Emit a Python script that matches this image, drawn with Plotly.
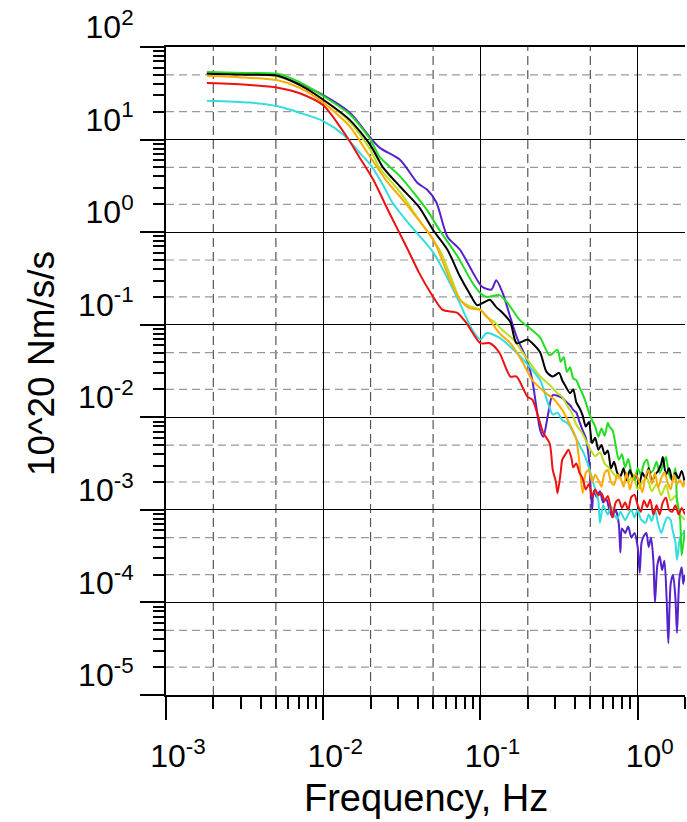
import plotly.graph_objects as go

# ---- data (log10 of frequency in Hz, log10 of spectral level) ----
purple_logf = [-2.74, -2.5, -2.29, -2.15, -2.0, -1.83, -1.70, -1.64, -1.51, -1.40, -1.34, -1.28, -1.21, -1.13,
               -1.05, -0.99, -0.93, -0.90, -0.86, -0.81, -0.77, -0.70, -0.67, -0.62, -0.60, -0.57, -0.54,
               -0.48, -0.45, -0.43, -0.41, -0.39, -0.37, -0.35, -0.33, -0.31, -0.29, -0.28, -0.26, -0.24,
               -0.22, -0.20, -0.18, -0.16, -0.14, -0.12, -0.11, -0.10, -0.08, -0.06, -0.04, -0.02, 0.0,
               0.013, 0.025, 0.04, 0.055, 0.07, 0.085, 0.10, 0.11, 0.125, 0.14, 0.155, 0.17, 0.185, 0.195,
               0.21, 0.225, 0.24, 0.25, 0.265, 0.28, 0.29, 0.30]
purple_logp = [1.72, 1.71, 1.69, 1.60, 1.48, 1.29, 1.02, 0.91, 0.78, 0.53, 0.46, 0.32, -0.05, -0.19,
               -0.43, -0.59, -0.62, -0.52, -0.65, -0.92, -1.13, -1.40, -1.60, -2.14, -2.21, -1.97, -1.76,
               -1.79, -1.84, -1.87, -1.92, -1.95, -2.05, -2.14, -2.22, -2.45, -3.0, -2.80, -2.86, -2.80,
               -2.92, -2.88, -3.0, -3.08, -3.0, -3.15, -3.46, -3.20, -3.25, -3.18, -3.30, -3.25, -3.40,
               -3.68, -3.35, -3.28, -3.25, -3.40, -3.30, -3.55, -4.0, -3.60, -3.50, -3.65, -3.55, -4.0, -4.44,
               -3.80, -3.70, -3.95, -4.33, -3.75, -3.62, -3.80, -3.70]

black_logf = [-2.74, -2.5, -2.29, -2.15, -2.0, -1.83, -1.70, -1.62, -1.51, -1.39, -1.30, -1.21, -1.13, -1.07,
              -1.02, -0.98, -0.94, -0.90, -0.86, -0.81, -0.77, -0.70, -0.67, -0.62, -0.58, -0.54, -0.50,
              -0.48, -0.46, -0.43, -0.41, -0.39, -0.37, -0.35, -0.33, -0.31, -0.29, -0.27, -0.25, -0.23,
              -0.21, -0.19, -0.17, -0.15, -0.13, -0.11, -0.09, -0.07, -0.05, -0.03, -0.01, 0.01, 0.03,
              0.05, 0.07, 0.09, 0.11, 0.13, 0.15, 0.16, 0.18, 0.20, 0.22, 0.24, 0.26, 0.28, 0.30]
black_logp = [1.71, 1.70, 1.69, 1.59, 1.43, 1.21, 0.94, 0.70, 0.49, 0.27, 0.02, -0.19, -0.48, -0.66,
              -0.79, -0.76, -0.73, -0.81, -0.87, -0.97, -1.20, -1.16, -1.20, -1.30, -1.51, -1.56, -1.52,
              -1.60, -1.66, -1.74, -1.70, -1.84, -1.90, -1.98, -2.10, -2.05, -2.28, -2.22, -2.35, -2.30,
              -2.40, -2.36, -2.55, -2.48, -2.60, -2.64, -2.55, -2.68, -2.57, -2.65, -2.62, -2.72, -2.60,
              -2.66, -2.55, -2.70, -2.62, -2.58, -2.50, -2.43, -2.62, -2.55, -2.68, -2.60, -2.66, -2.58, -2.71]

green_logf = [-2.74, -2.5, -2.29, -2.15, -2.0, -1.83, -1.70, -1.64, -1.51, -1.34, -1.26, -1.15, -1.05, -1.0,
              -0.96, -0.88, -0.83, -0.75, -0.70, -0.62, -0.56, -0.51, -0.49, -0.47, -0.45, -0.43, -0.41,
              -0.39, -0.37, -0.35, -0.33, -0.31, -0.29, -0.27, -0.25, -0.23, -0.21, -0.19, -0.18, -0.16,
              -0.14, -0.12, -0.10, -0.08, -0.06, -0.04, -0.02, 0.0, 0.02, 0.04, 0.06, 0.08, 0.10, 0.12,
              0.14, 0.16, 0.18, 0.20, 0.22, 0.24, 0.25, 0.27, 0.28, 0.30]
green_logp = [1.73, 1.72, 1.71, 1.62, 1.47, 1.27, 1.0, 0.81, 0.60, 0.24, 0.02, -0.25, -0.55, -0.66,
              -0.70, -0.68, -0.76, -0.95, -1.02, -1.14, -1.33, -1.27, -1.40, -1.35, -1.51, -1.46, -1.58,
              -1.60, -1.68, -1.75, -1.84, -1.95, -2.03, -2.10, -2.21, -2.12, -2.20, -2.06, -2.10, -2.14,
              -2.30, -2.46, -2.40, -2.54, -2.45, -2.60, -2.68, -2.55, -2.62, -2.50, -2.46, -2.60, -2.57,
              -2.48, -2.60, -2.52, -2.43, -2.62, -2.68, -2.55, -2.89, -3.10, -3.49, -3.22]

lime_logf = [-2.74, -2.5, -2.29, -2.15, -2.0, -1.83, -1.70, -1.64, -1.51, -1.39, -1.26, -1.18, -1.13, -1.07,
             -1.0, -0.96, -0.91, -0.86, -0.79, -0.70, -0.62, -0.56, -0.51, -0.48, -0.45, -0.42, -0.39,
             -0.36, -0.33, -0.30, -0.27, -0.24, -0.21, -0.18, -0.15, -0.12, -0.09, -0.06, -0.03, 0.0,
             0.03, 0.06, 0.09, 0.12, 0.15, 0.18, 0.21, 0.24, 0.27, 0.30]
lime_logp = [1.72, 1.71, 1.68, 1.59, 1.43, 1.19, 0.89, 0.69, 0.43, 0.13, -0.19, -0.52, -0.73, -0.80,
             -0.84, -0.92, -0.97, -1.06, -1.16, -1.38, -1.56, -1.65, -1.74, -1.78, -1.87, -1.95, -2.08,
             -2.15, -2.25, -2.35, -2.42, -2.38, -2.50, -2.55, -2.62, -2.66, -2.58, -2.70, -2.62, -2.78,
             -2.70, -2.66, -2.80, -2.72, -2.84, -2.73, -2.90, -2.85, -3.05, -3.11]

orange_logf = [-2.74, -2.5, -2.29, -2.15, -2.0, -1.83, -1.72, -1.60, -1.51, -1.42, -1.30, -1.19, -1.13, -1.07,
               -1.0, -0.94, -0.88, -0.81, -0.73, -0.67, -0.59, -0.53, -0.48, -0.46, -0.43, -0.41, -0.39,
               -0.37, -0.35, -0.33, -0.31, -0.29, -0.27, -0.25, -0.23, -0.21, -0.19, -0.17, -0.15, -0.13,
               -0.11, -0.09, -0.07, -0.05, -0.03, -0.01, 0.01, 0.03, 0.05, 0.07, 0.09, 0.11, 0.13, 0.15,
               0.17, 0.19, 0.21, 0.23, 0.25, 0.27, 0.29, 0.30]
orange_logp = [1.69, 1.67, 1.64, 1.56, 1.40, 1.14, 0.86, 0.56, 0.38, 0.19, -0.08, -0.53, -0.73, -0.82,
               -0.84, -0.95, -1.09, -1.20, -1.41, -1.60, -1.73, -1.81, -1.92, -1.98, -2.08, -2.15, -2.24,
               -2.50, -2.82, -2.60, -2.57, -2.70, -2.62, -2.68, -2.75, -2.60, -2.57, -2.70, -2.73, -2.62,
               -2.65, -2.75, -2.60, -2.78, -2.66, -2.62, -2.70, -2.81, -2.64, -2.57, -2.72, -2.60, -2.76,
               -2.66, -2.59, -2.70, -2.78, -2.62, -2.72, -2.68, -2.75, -2.68]

cyan_logf = [-2.74, -2.47, -2.29, -2.15, -2.0, -1.87, -1.77, -1.70, -1.62, -1.56, -1.45, -1.30, -1.15, -1.05,
             -1.0, -0.96, -0.88, -0.79, -0.70, -0.62, -0.54, -0.51, -0.48, -0.45, -0.43, -0.40, -0.37,
             -0.34, -0.32, -0.30, -0.27, -0.25, -0.24, -0.22, -0.21, -0.19, -0.17, -0.15, -0.13, -0.11,
             -0.08, -0.06, -0.04, -0.02, 0.0, 0.02, 0.05, 0.07, 0.09, 0.11, 0.13, 0.15, 0.17, 0.19, 0.21,
             0.22, 0.24, 0.25, 0.27, 0.29, 0.30]
cyan_logp = [1.42, 1.40, 1.36, 1.29, 1.20, 1.05, 0.86, 0.73, 0.51, 0.32, 0.08, -0.22, -0.70, -1.06,
             -1.16, -1.09, -1.14, -1.27, -1.43, -1.60, -1.97, -1.95, -2.03, -2.06, -2.10, -2.20, -2.30,
             -2.40, -2.49, -2.60, -2.78, -2.90, -3.14, -2.95, -2.98, -3.05, -2.96, -3.05, -3.10, -3.02,
             -3.11, -3.05, -3.0, -3.08, -3.0, -3.10, -3.14, -3.05, -3.12, -3.0, -3.15, -3.25, -3.15, -3.08,
             -3.11, -3.20, -3.35, -3.54, -3.30, -3.25, -3.22]

red_logf = [-2.74, -2.47, -2.29, -2.15, -2.0, -1.85, -1.77, -1.68, -1.58, -1.47, -1.39, -1.30, -1.24, -1.15,
            -1.09, -1.0, -0.94, -0.88, -0.81, -0.77, -0.70, -0.67, -0.60, -0.56, -0.54, -0.52, -0.51,
            -0.49, -0.48, -0.46, -0.44, -0.42, -0.41, -0.39, -0.37, -0.35, -0.33, -0.31, -0.29, -0.27,
            -0.25, -0.23, -0.21, -0.19, -0.17, -0.16, -0.14, -0.12, -0.10, -0.08, -0.06, -0.04, -0.02,
            0.0, 0.02, 0.04, 0.06, 0.08, 0.10, 0.12, 0.14, 0.16, 0.18, 0.20, 0.22, 0.24, 0.26, 0.28, 0.30]
red_logp = [1.61, 1.59, 1.56, 1.50, 1.37, 1.03, 0.81, 0.56, 0.21, -0.16, -0.44, -0.70, -0.84, -0.87,
            -0.98, -1.20, -1.20, -1.30, -1.56, -1.56, -1.78, -1.81, -2.17, -2.28, -2.57, -2.70, -2.82,
            -2.60, -2.46, -2.40, -2.35, -2.45, -2.54, -2.50, -2.60, -2.66, -2.78, -2.72, -2.86, -2.78,
            -2.84, -2.82, -2.90, -2.85, -3.0, -3.08, -2.92, -2.89, -2.98, -2.92, -3.0, -2.86, -2.84,
            -2.95, -3.02, -2.90, -2.97, -2.89, -3.05, -2.95, -3.05, -2.92, -2.87, -3.0, -3.02, -2.95,
            -3.05, -2.98, -3.05]

series = [
    ("purple", purple_logf, purple_logp, "#5522cc"),
    ("cyan", cyan_logf, cyan_logp, "#33dddd"),
    ("lime", lime_logf, lime_logp, "#b8e020"),
    ("green", green_logf, green_logp, "#22dd22"),
    ("black", black_logf, black_logp, "#000000"),
    ("orange", orange_logf, orange_logp, "#ffaa00"),
    ("red", red_logf, red_logp, "#ee1111"),
]

x_decades = [-3, -2, -1, 0]
y_decades = [-5, -4, -3, -2, -1, 0, 1, 2]

def sup_label(k):
    return "10<sup>%d</sup>" % k

fig = go.Figure()
for name, lf, lp, col in series:
    fig.add_trace(go.Scatter(
        x=[10 ** v for v in lf], y=[10 ** v for v in lp], mode="lines", name=name,
        line=dict(color=col, width=2, shape="spline", smoothing=0.7), showlegend=False))

# dashed grid lines at 2 and 5 of each decade
shapes = []
for k in [-3, -2, -1, 0]:
    for m in (2, 5):
        v = m * 10 ** k
        if v <= 1.9:
            shapes.append(dict(type="line", xref="x", yref="paper", x0=v, x1=v, y0=0, y1=1,
                               line=dict(color="#555555", width=1.2, dash="9px,5px"), layer="below"))
for k in range(-5, 2):
    for m in (2, 5):
        v = m * 10 ** k
        shapes.append(dict(type="line", xref="paper", yref="y", x0=0, x1=1, y0=v, y1=v,
                           line=dict(color="#999999", width=1.2, dash="8px,5px"), layer="below"))

x_minor = [m * 10 ** k for k in [-3, -2, -1] for m in range(2, 10)] + [2.0]
y_minor = [m * 10 ** k for k in range(-5, 2) for m in range(2, 10)]

font_family = "Liberation Sans, Arial, sans-serif"

fig.update_layout(
    width=687, height=822,
    margin=dict(l=166, r=2, t=47, b=127),
    paper_bgcolor="white", plot_bgcolor="white",
    shapes=shapes,
    font=dict(family=font_family, color="black"),
    xaxis=dict(
        type="log", range=[-3, 0.30103], automargin=False,
        tickvals=[10 ** k for k in x_decades], ticktext=[sup_label(k) for k in x_decades],
        ticks="outside", ticklen=23, tickwidth=1.5, tickcolor="black",
        showline=True, linecolor="black", linewidth=2, mirror=True,
        showgrid=True, gridcolor="black", gridwidth=1.2,
        tickfont=dict(size=32, family=font_family),
        ticklabelshift=12, ticklabelstandoff=9,
        minor=dict(tickvals=x_minor, ticks="outside", ticklen=12, tickwidth=1.5,
                   tickcolor="black", showgrid=False),
        zeroline=False,
    ),
    yaxis=dict(
        type="log", range=[-5, 2], automargin=False,
        tickvals=[10 ** k for k in y_decades], ticktext=[sup_label(k) for k in y_decades],
        ticks="outside", ticklen=24, tickwidth=1.5, tickcolor="black",
        showline=True, linecolor="black", linewidth=2,
        showgrid=True, gridcolor="black", gridwidth=1.2,
        tickfont=dict(size=32, family=font_family),
        ticklabelshift=-20,
        minor=dict(tickvals=y_minor, ticks="outside", ticklen=11, tickwidth=1.5,
                   tickcolor="black", showgrid=False),
        zeroline=False,
    ),
    annotations=[
        dict(text="10^20 Nm/s/s", textangle=-90, xref="paper", yref="paper",
             x=(42 - 166) / 519, y=(695 - 364) / 648, xanchor="center", yanchor="middle",
             showarrow=False, font=dict(size=37, family=font_family)),
        dict(text="Frequency, Hz", xref="paper", yref="paper",
             x=(426 - 166) / 519, y=-103 / 648, xanchor="center", yanchor="middle",
             showarrow=False, font=dict(size=38, family=font_family)),
    ],
)

fig.write_html("out.html", config={"displayModeBar": False},
               post_script="document.body.style.margin='0px';document.body.style.overflow='hidden';")
